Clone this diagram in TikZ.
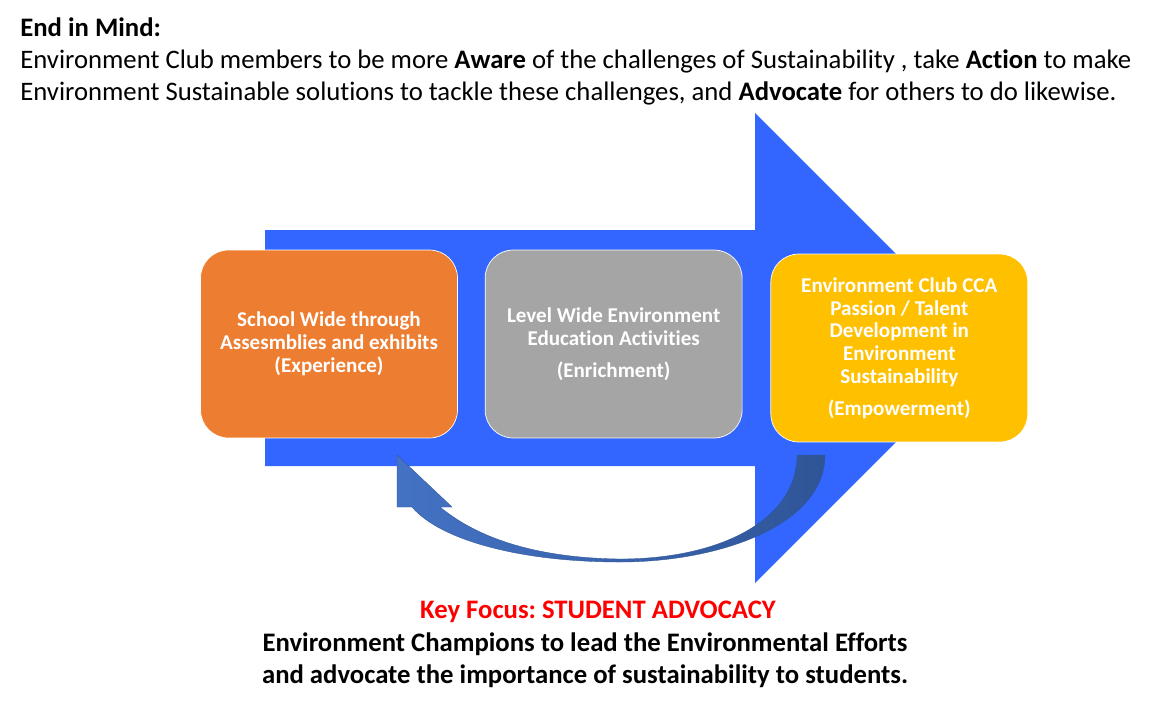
\documentclass[tikz,border=0pt]{standalone}
\usepackage{fontspec}
\setmainfont{Carlito}[Ligatures=NoCommon]
\frenchspacing
\usetikzlibrary{positioning, calc}
\definecolor{bigblue}{HTML}{3366FF}
\definecolor{expor}{HTML}{ED7D31}
\definecolor{enrgray}{HTML}{A5A5A5}
\definecolor{empgold}{HTML}{FFC000}
\definecolor{loopblue}{HTML}{4472C4}
\definecolor{loopdark}{HTML}{2F5597}
\definecolor{focusred}{HTML}{FF0000}
\tikzset{
  stage/.style={rectangle, rounded corners=0.56cm, draw=white, fill=#1, thin,
                minimum width=5.14cm, minimum height=3.76cm, align=center,
                text=white, font=\fontsize{12}{13}\selectfont\bfseries},
  stage/.default=expor,
  headtxt/.style={inner sep=0pt, align=left, font=\fontsize{15.2}{18.1}\selectfont},
  foottxt/.style={inner sep=0pt, align=center, font=\fontsize{15.2}{18.1}\selectfont\bfseries},
}

\begin{document}
\begin{tikzpicture}[x=0.02cm, y=-0.02cm]
  \useasboundingbox (0,0) rectangle (1163,708);

  % big process arrow
  \fill[bigblue] (265,230) -- (755,230) -- (755,113) -- (990,348) -- (755,583)
    -- (755,466) -- (265,466) -- cycle;

  \node[stage=expor] (exp) at (329,344) {School Wide through\\Assesmblies and exhibits\\(Experience)};
  \node[stage=enrgray, right=0.54cm of exp] (enr) {Level Wide Environment\\Education Activities\\[5pt](Enrichment)};
  \node[stage=empgold, right=0.56cm of enr, yshift=-0.08cm] (emp) {Environment Club CCA\\Passion / Talent\\Development in\\Environment\\Sustainability\\[5pt](Empowerment)};

  % curved loop back arrow
  \shade[left color=loopblue, right color=loopdark, draw=loopdark, very thin]
    (797,455) -- (825,455) .. controls (825,525) and (720,562) .. (620,562)
    .. controls (520,562) and (440,540) .. (412,507) -- (397,507) -- (397,455)
    -- (452,507) -- (440,507) .. controls (480,540) and (540,558) .. (620,559)
    .. controls (720,559) and (797,520) .. (797,455) -- cycle;

  \node[headtxt, anchor=base west] (mind) at (20,36) {\textbf{End in Mind:}};
  \node[headtxt, anchor=base west] (aim1) at (20,68) {Environment Club members to be more \textbf{Aware} of the challenges of Sustainability , take \textbf{Action} to make};
  \node[headtxt, anchor=base west] (aim2) at (20,100) {Environment Sustainable solutions to tackle these challenges, and \textbf{Advocate} for others to do likewise.};

  \node[foottxt, anchor=base, text=focusred] (focus) at (598,618) {Key Focus: STUDENT ADVOCACY};
  \node[foottxt, anchor=base] (champ1) at (585,651) {Environment Champions to lead the Environmental Efforts};
  \node[foottxt, anchor=base] (champ2) at (585,683) {and advocate the importance of sustainability to students.};
\end{tikzpicture}
\end{document}
